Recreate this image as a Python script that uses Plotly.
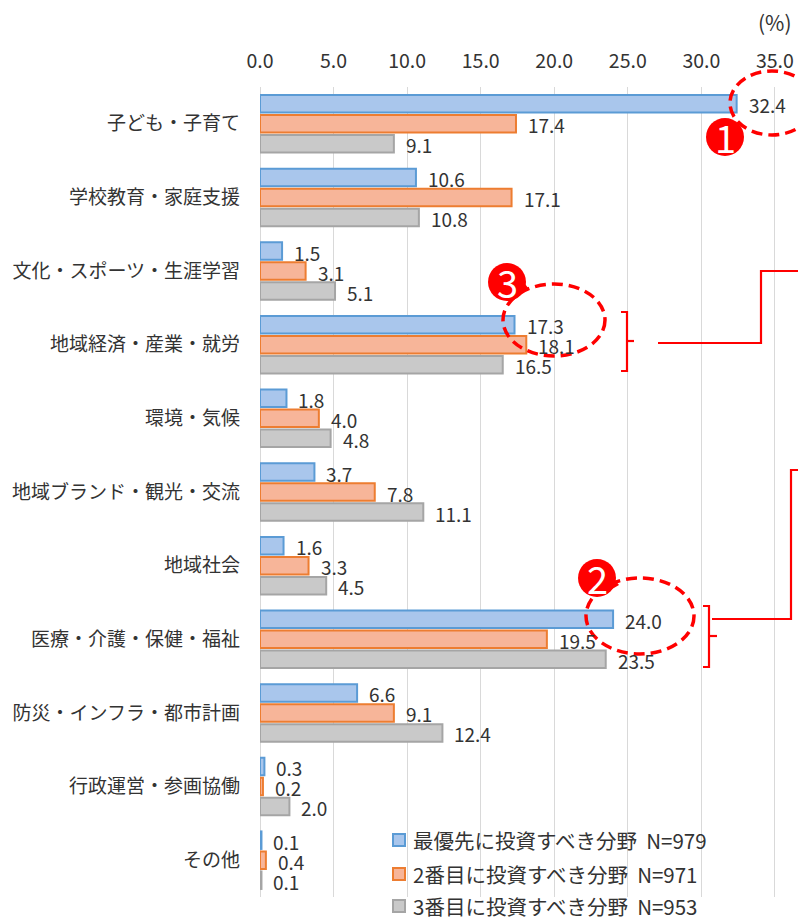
import plotly.graph_objects as go

categories = ["子ども・子育て", "学校教育・家庭支援", "文化・スポーツ・生涯学習", "地域経済・産業・就労",
              "環境・気候", "地域ブランド・観光・交流", "地域社会", "医療・介護・保健・福祉",
              "防災・インフラ・都市計画", "行政運営・参画協働", "その他"]
first_priority = [32.4, 10.6, 1.5, 17.3, 1.8, 3.7, 1.6, 24.0, 6.6, 0.3, 0.1]
second_priority = [17.4, 17.1, 3.1, 18.1, 4.0, 7.8, 3.3, 19.5, 9.1, 0.2, 0.4]
third_priority = [9.1, 10.8, 5.1, 16.5, 4.8, 11.1, 4.5, 23.5, 12.4, 2.0, 0.1]
series_names = ["最優先に投資すべき分野\u00a0\u00a0N=979", "2番目に投資すべき分野\u00a0\u00a0N=971",
                "3番目に投資すべき分野\u00a0\u00a0N=953"]
tick_vals = [0, 5, 10, 15, 20, 25, 30, 35]
tick_text = ["0.0", "5.0", "10.0", "15.0", "20.0", "25.0", "30.0", "35.0"]

FONT = "Noto Sans CJK JP"
W, H = 798, 919
L, R, T, B = 260, 0, 87, 22
PW, PH = W - L - R, H - T - B
XMAX = 36.57

fills = ["#a9c6ec", "#f7b599", "#c9c9c9"]
lines = ["#5b9bd5", "#ed7d31", "#a5a5a5"]
series = [first_priority, second_priority, third_priority]
idx = list(range(len(categories)))

fig = go.Figure()
for k, vals in enumerate(series):
    fig.add_trace(go.Bar(
        x=vals, y=idx, orientation="h", name=series_names[k],
        marker=dict(color=fills[k], line=dict(color=lines[k], width=2)),
        showlegend=False, hoverinfo="skip"))

BARGAP, GROUPGAP = 0.185, 0.125
slot = (1 - BARGAP) / 3
for k, vals in enumerate(series):
    off = (k - 1) * slot
    for i, v in enumerate(vals):
        fig.add_annotation(x=v, y=i + off, xref="x", yref="y", text=f"{v:.1f}",
                           showarrow=False, xanchor="left", yanchor="middle", xshift=10, yshift=-1,
                           font=dict(family=FONT, size=19, color="#333333"))

def px(xp):
    return (xp - L) / PW

def py(yp):
    return (H - B - yp) / PH

red = "#ff0000"
shapes = []
# dashed ellipses
for cx, cy, rx, ry in [(772, 103, 42, 32), (554, 320, 51, 36), (640, 616, 54, 38)]:
    shapes.append(dict(type="circle", xref="paper", yref="paper",
                       x0=px(cx - rx), x1=px(cx + rx), y0=py(cy + ry), y1=py(cy - ry),
                       line=dict(color=red, width=3.5, dash="11px,6px"), layer="above"))
# brackets and connectors
def path(points, close=False):
    s = "M " + " L ".join(f"{px(a)},{py(b)}" for a, b in points)
    return s + (" Z" if close else "")
for pts in [
    [(621, 312), (627, 312), (627, 371), (621, 371)],
    [(627, 341), (634, 341)],
    [(658, 343), (761, 343), (761, 271), (800, 271)],
    [(703, 606), (709, 606), (709, 667), (703, 667)],
    [(709, 636), (717, 636)],
    [(712, 619), (791, 619), (791, 470), (800, 470)],
]:
    shapes.append(dict(type="path", xref="paper", yref="paper", path=path(pts),
                       line=dict(color=red, width=2.2), layer="above"))
# numbered badges
badges = [(725, 137, "1", False), (597, 578, "2", True), (507, 282, "3", True)]
for cx, cy, t, tail in badges:
    r = 19
    shapes.append(dict(type="circle", xref="paper", yref="paper",
                       x0=px(cx - r), x1=px(cx + r), y0=py(cy + r), y1=py(cy - r),
                       fillcolor=red, line=dict(color=red, width=0), layer="above"))
    if tail:
        shapes.append(dict(type="path", xref="paper", yref="paper",
                           path=path([(cx + 14, cy - 3), (cx + 22, cy + 7), (cx + 10, cy + 14)], close=True),
                           fillcolor=red, line=dict(color=red, width=0), layer="above"))
    fig.add_annotation(x=px(cx), y=py(cy), xref="paper", yref="paper", text=t,
                       showarrow=False, xanchor="center", yanchor="middle", yshift=1,
                       font=dict(family=FONT, size=38, color="white"))

fig.add_annotation(x=px(775), y=py(22), xref="paper", yref="paper", text="(%)",
                   showarrow=False, xanchor="center", yanchor="middle",
                   font=dict(family=FONT, size=21, color="#333333"))

# legend (drawn manually so it can sit over the plot bottom)
legend_ys = [840, 874, 906]
for k, ly in enumerate(legend_ys):
    shapes.append(dict(type="rect", xref="paper", yref="paper",
                       x0=px(393), x1=px(405), y0=py(ly + 6), y1=py(ly - 6),
                       fillcolor=fills[k], line=dict(color=lines[k], width=2), layer="above"))
    fig.add_annotation(x=px(411), y=py(ly), xref="paper", yref="paper", text=series_names[k],
                       showarrow=False, xanchor="left", yanchor="middle",
                       font=dict(family=FONT, size=20.5, color="#333333"))

fig.update_layout(
    width=W, height=H, margin=dict(l=L, r=R, t=T, b=B),
    paper_bgcolor="white", plot_bgcolor="white",
    barmode="group", bargap=BARGAP, bargroupgap=GROUPGAP,
    font=dict(family=FONT, color="#333333"),
    showlegend=False,
    shapes=shapes,
    xaxis=dict(side="top", range=[0, XMAX], tickvals=tick_vals, ticktext=tick_text,
               showgrid=True, gridcolor="#d9d9d9", gridwidth=1, zeroline=True,
               zerolinecolor="#d9d9d9", zerolinewidth=1, showline=False, ticks="",
               ticklabelstandoff=14, tickfont=dict(family=FONT, size=19.5, color="#333333"),
               fixedrange=True),
    yaxis=dict(range=[10.5, -0.5], tickvals=idx, ticktext=categories, showgrid=False,
               zeroline=False, showline=False, ticks="", ticklabelstandoff=19,
               tickfont=dict(family=FONT, size=19, color="#333333"), fixedrange=True),
)

fig.write_html("out.html", post_script="document.body.style.margin='0';document.body.style.overflow='hidden';",
               config={"displayModeBar": False})
